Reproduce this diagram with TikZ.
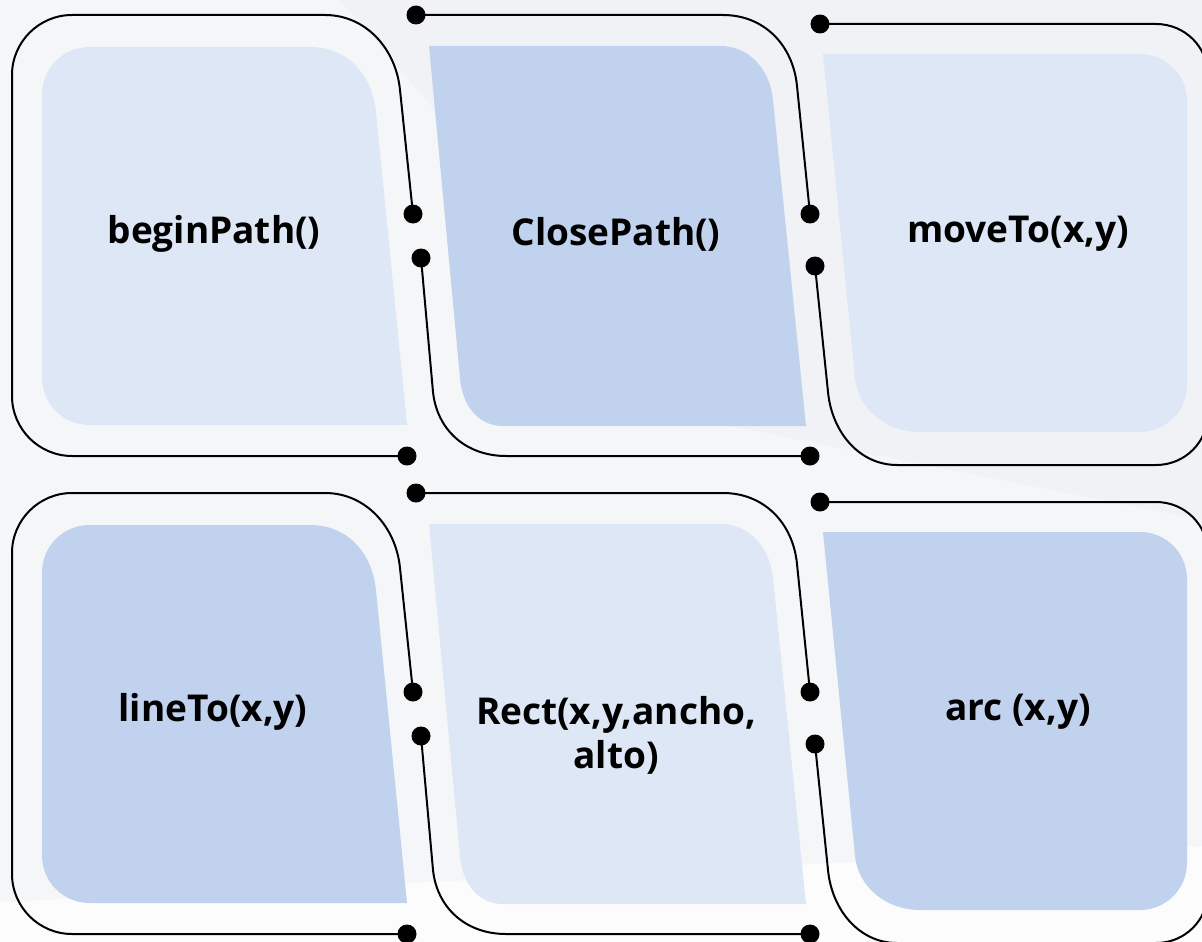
\documentclass[tikz,border=0pt]{standalone}
\usepackage{fontspec}
\setmainfont{Open Sans}
\definecolor{lightfill}{HTML}{DEE7F6}
\definecolor{darkfill}{HTML}{C1D2EE}
\definecolor{bgbase}{HTML}{F1F2F5}
\definecolor{bglight}{HTML}{F5F6F8}
\tikzset{
  dotnode/.style={circle,fill=black,inner sep=0pt,minimum size=19pt},
  wire/.style={draw=black,line width=2pt},
  label/.style={font=\fontsize{37}{44}\selectfont\bfseries,text=black,align=center,inner sep=0pt},
}
\newcommand{\cellrow}[4]{%
  % inner shapes
  \fill[#1] (90,47) -- (310,47) .. controls (348,47) and (372,75) .. (376,112) -- (407,425) -- (90,425) .. controls (63,425) and (42,404) .. (42,377) -- (42,95) .. controls (42,68) and (63,47) .. (90,47) -- cycle;
  \fill[#2] (429,46) -- (720,46) .. controls (750,46) and (770,70) .. (773,100) -- (806,426) -- (503,426) .. controls (478,426) and (462,405) .. (460,378) -- cycle;
  \fill[#3] (823,54) -- (1140,54) .. controls (1166,54) and (1187,75) .. (1187,101) -- (1187,385) .. controls (1187,411) and (1166,432) .. (1140,432) -- (920,432) .. controls (885,432) and (858,408) .. (855,378) -- cycle;
  % dots
  \node[dotnode] (#4a1) at (413,214) {};
  \node[dotnode] (#4b1) at (407,456) {};
  \node[dotnode] (#4a2) at (421,258) {};
  \node[dotnode] (#4b2) at (810,456) {};
  \node[dotnode] (#4c1) at (416,15) {};
  \node[dotnode] (#4c2) at (810,214) {};
  \node[dotnode] (#4d1) at (815,266) {};
  \node[dotnode] (#4d2) at (820,24) {};
  % wires
  \draw[wire] (#4a1.center) -- (400,90) .. controls (396,49) and (366,15) .. (325,15) -- (72,15) .. controls (39,15) and (12,42) .. (12,75) -- (12,396) .. controls (12,429) and (39,456) .. (72,456) -- (#4b1.center);
  \draw[wire] (#4a2.center) -- (433,392) .. controls (437,430) and (466,456) .. (506,456) -- (#4b2.center);
  \draw[wire] (#4c1.center) -- (723,15) .. controls (764,15) and (793,45) .. (797,86) -- (#4c2.center);
  \draw[wire] (#4d1.center) -- (828,392) .. controls (832,433) and (860,465) .. (897,465) -- (1156,465) .. controls (1185,465) and (1208,442) .. (1208,413) -- (1208,76) .. controls (1208,47) and (1185,24) .. (1156,24) -- (#4d2.center);
}
\begin{document}
\begin{tikzpicture}[x=1pt,y=-1pt]
  \useasboundingbox (0,0) rectangle (1202,942);
  \clip (0,0) rectangle (1202,942);
  % background
  \fill[bgbase] (0,0) rectangle (1202,942);
  \fill[bglight] (0,0) -- (340,0) -- (700,420) -- (1202,520) -- (1202,942) -- (0,942) -- cycle;
  \fill[white!70!bglight] (0,902) -- (1202,846) -- (1202,942) -- (0,942) -- cycle;
  % top row
  \begin{scope}
    \cellrow{lightfill}{darkfill}{lightfill}{t}
  \end{scope}
  % bottom row
  \begin{scope}[shift={(0,478)}]
    \cellrow{darkfill}{lightfill}{darkfill}{u}
  \end{scope}
  % labels
  \node[label] (t1) at (214,234) {beginPath()};
  \node[label] (t2) at (616,234) {ClosePath()};
  \node[label] (t3) at (1018,234) {moveTo(x,y)};
  \node[label] (t4) at (213,712) {lineTo(x,y)};
  \node[label] (t5) at (616,735) {Rect(x,y,ancho,\\alto)};
  \node[label] (t6) at (1018,712) {arc (x,y)};
\end{tikzpicture}
\end{document}
